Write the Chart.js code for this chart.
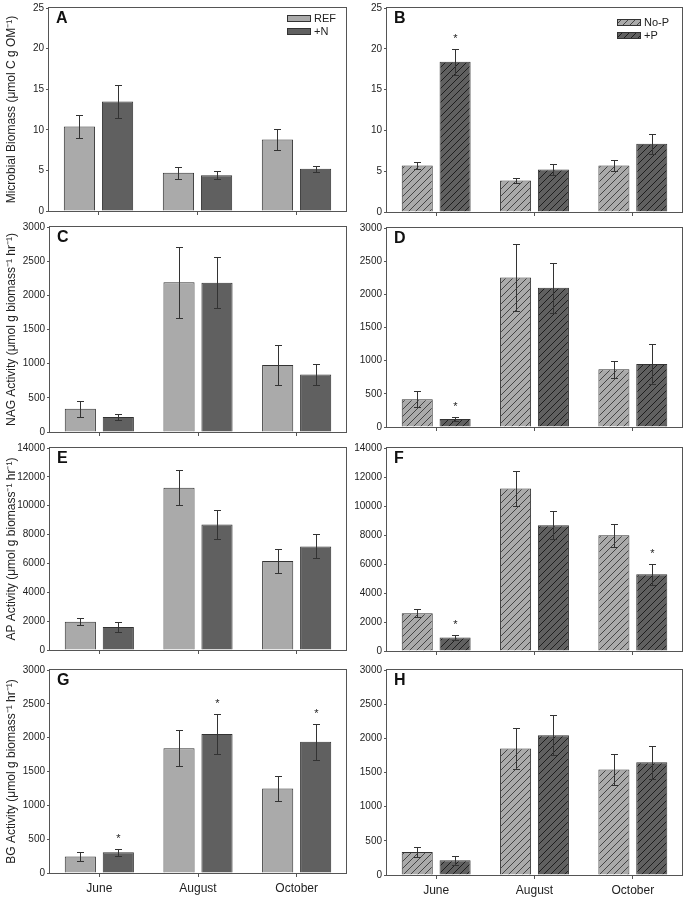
<!DOCTYPE html>
<html>
<head>
<meta charset="utf-8">
<script src="https://cdn.jsdelivr.net/npm/chart.js@4.4.1/dist/chart.umd.min.js"></script>
<style>
  html, body { margin: 0; padding: 0; background: #fff; }
  #wrap { position: relative; width: 685px; height: 898px; overflow: hidden; background: #fff; }
  canvas { position: absolute; }
</style>
</head>
<body>
<div id="wrap"></div>
<script>
// ---------------- DATA ----------------
const months = ['June', 'August', 'October'];
const nSeries = ['REF', '+N'];
const pSeries = ['No-P', '+P'];

const yTitleA = 'Microbial Biomass (\u03bcmol C g OM\u207b\u00b9)';
const yTitleC = 'NAG Activity (\u03bcmol g biomass\u207b\u00b9 hr\u207b\u00b9)';
const yTitleE = 'AP Activity (\u03bcmol g biomass\u207b\u00b9 hr\u207b\u00b9)';
const yTitleG = 'BG Activity (\u03bcmol g biomass\u207b\u00b9 hr\u207b\u00b9)';

const ticksBiomass = [0, 5, 10, 15, 20, 25];
const ticksNAG = [0, 500, 1000, 1500, 2000, 2500, 3000];
const ticksAP = [0, 2000, 4000, 6000, 8000, 10000, 12000, 14000];
const ticksBG = [0, 500, 1000, 1500, 2000, 2500, 3000];

// Panel A (REF / +N)
const A_ref = [10.4, 4.7, 8.8];
const A_refErr = [1.4, 0.7, 1.25];
const A_n = [13.5, 4.4, 5.2];
const A_nErr = [2.05, 0.5, 0.4];
const A_sig = [0, 0, 0];
// Panel B (No-P / +P)
const B_noP = [5.7, 3.85, 5.7];
const B_noPErr = [0.4, 0.35, 0.65];
const B_p = [18.4, 5.2, 8.35];
const B_pErr = [1.6, 0.7, 1.25];
const B_sig = [1, 0, 0];
// Panel C
const C_ref = [340, 2190, 980];
const C_refErr = [120, 515, 290];
const C_n = [220, 2185, 840];
const C_nErr = [50, 370, 155];
const C_sig = [0, 0, 0];
// Panel D
const D_noP = [420, 2255, 870];
const D_noPErr = [125, 500, 125];
const D_p = [120, 2100, 950];
const D_pErr = [30, 375, 295];
const D_sig = [1, 0, 0];
// Panel E
const E_ref = [1950, 11250, 6170];
const E_refErr = [250, 1230, 800];
const E_n = [1590, 8690, 7180];
const E_nErr = [320, 1000, 830];
const E_sig = [0, 0, 0];
// Panel F
const F_noP = [2600, 11200, 7980];
const F_noPErr = [270, 1200, 800];
const F_p = [930, 8680, 5300];
const F_pErr = [200, 960, 730];
const F_sig = [1, 0, 1];
// Panel G
const G_ref = [245, 1845, 1250];
const G_refErr = [65, 270, 190];
const G_n = [305, 2055, 1940];
const G_nErr = [55, 300, 265];
const G_sig = [1, 1, 1];
// Panel H
const H_noP = [335, 1850, 1545];
const H_noPErr = [68, 298, 225];
const H_p = [215, 2045, 1650];
const H_pErr = [63, 290, 245];
const H_sig = [0, 0, 0];

// ---------------- STYLE ----------------
const FONT = "'Liberation Sans', Arial, Helvetica, sans-serif";
Chart.defaults.font.family = FONT;
Chart.defaults.font.size = 11;
Chart.defaults.color = '#222';

const LIGHT = '#aaaaaa';
const DARK = '#606060';
const EDGE = '#333333';
const FRAME = '#555555';

function hatch(base, lineColor) {
  const s = 7;
  const c = document.createElement('canvas');
  c.width = s; c.height = s;
  const g = c.getContext('2d');
  g.fillStyle = base;
  g.fillRect(0, 0, s, s);
  g.strokeStyle = lineColor;
  g.lineWidth = 1;
  g.beginPath();
  g.moveTo(-1, s + 1); g.lineTo(s + 1, -1);
  g.moveTo(-1, 1); g.lineTo(1, -1);
  g.moveTo(s - 1, s + 1); g.lineTo(s + 1, s - 1);
  g.stroke();
  return g.createPattern(c, 'repeat');
}

const decor = {
  id: 'decor',
  afterDatasetsDraw(chart, args, o) {
    const ctx = chart.ctx;
    const a = chart.chartArea;
    const ys = chart.scales.y;
    ctx.save();
    // error bars + asterisks
    ctx.strokeStyle = EDGE;
    ctx.lineWidth = 1;
    o.errors.forEach((errArr, di) => {
      const meta = chart.getDatasetMeta(di);
      const vals = chart.data.datasets[di].data;
      meta.data.forEach((el, j) => {
        const x = Math.round(el.x) + 0.5;
        const yt = Math.round(ys.getPixelForValue(vals[j] + errArr[j])) + 0.5;
        const yb = Math.round(ys.getPixelForValue(Math.max(0, vals[j] - errArr[j]))) + 0.5;
        ctx.beginPath();
        ctx.moveTo(x, yt); ctx.lineTo(x, yb);
        ctx.moveTo(x - 3.5, yt); ctx.lineTo(x + 3.5, yt);
        ctx.moveTo(x - 3.5, yb); ctx.lineTo(x + 3.5, yb);
        ctx.stroke();
        if (di === 1 && o.sig[j]) {
          ctx.fillStyle = '#222';
          ctx.font = '11px ' + FONT;
          ctx.textAlign = 'center';
          ctx.textBaseline = 'alphabetic';
          ctx.fillText('*', x, yt - 8);
        }
      });
    });
    // frame
    ctx.strokeStyle = FRAME;
    ctx.lineWidth = 1;
    const L = Math.round(a.left) - 0.5, T = Math.round(a.top) - 0.5;
    const R = Math.round(a.right) + 0.5, B = Math.round(a.bottom) + 0.5;
    ctx.strokeRect(L, T, R - L, B - T);
    // panel letter
    ctx.fillStyle = '#111';
    ctx.font = 'bold 16px ' + FONT;
    ctx.textAlign = 'left';
    ctx.textBaseline = 'middle';
    ctx.fillText(o.letter, a.left + 7, a.top + 11);
    // legend
    if (o.legend) {
      ctx.font = '11px ' + FONT;
      ctx.textBaseline = 'middle';
      chart.data.datasets.forEach((ds, i) => {
        const bx = a.right - o.legend.dx;
        const by = a.top + o.legend.y0 + i * 13;
        ctx.fillStyle = ds.backgroundColor;
        ctx.fillRect(bx, by, 23, 6);
        ctx.strokeStyle = EDGE;
        ctx.strokeRect(bx + 0.5, by + 0.5, 23, 6);
        ctx.fillStyle = '#222';
        ctx.fillText(ds.label, bx + 27, by + 3.5);
      });
    }
    ctx.restore();
  }
};

// ---------------- PANELS ----------------
const panels = [
  { letter: 'A', left: 0, top: 0, w: 350, h: 219, padT: 6, padR: 4, yW: 49, xH: 8, names: nSeries,
    d1: A_ref, e1: A_refErr, d2: A_n, e2: A_nErr, sig: A_sig, ticks: ticksBiomass, title: yTitleA, hatch: false, labels: false, legend: { dx: 59, y0: 7 } },
  { letter: 'B', left: 347, top: 0, w: 338, h: 220, padT: 7, padR: 3, yW: 40, xH: 8, names: pSeries,
    d1: B_noP, e1: B_noPErr, d2: B_p, e2: B_pErr, sig: B_sig, ticks: ticksBiomass, title: null, hatch: true, labels: false, legend: { dx: 65, y0: 11 } },
  { letter: 'C', left: 0, top: 219, w: 350, h: 221, padT: 8, padR: 4, yW: 50, xH: 8, names: nSeries,
    d1: C_ref, e1: C_refErr, d2: C_n, e2: C_nErr, sig: C_sig, ticks: ticksNAG, title: yTitleC, hatch: false, labels: false },
  { letter: 'D', left: 347, top: 220, w: 338, h: 215, padT: 2, padR: 3, yW: 40, xH: 8, names: pSeries,
    d1: D_noP, e1: D_noPErr, d2: D_p, e2: D_pErr, sig: D_sig, ticks: ticksNAG, title: null, hatch: true, labels: false },
  { letter: 'E', left: 0, top: 440, w: 350, h: 218, padT: 7, padR: 4, yW: 50, xH: 8, names: nSeries,
    d1: E_ref, e1: E_refErr, d2: E_n, e2: E_nErr, sig: E_sig, ticks: ticksAP, title: yTitleE, hatch: false, labels: false },
  { letter: 'F', left: 347, top: 440, w: 338, h: 219, padT: 8, padR: 3, yW: 40, xH: 8, names: pSeries,
    d1: F_noP, e1: F_noPErr, d2: F_p, e2: F_pErr, sig: F_sig, ticks: ticksAP, title: null, hatch: true, labels: false },
  { letter: 'G', left: 0, top: 658, w: 350, h: 240, padT: 12, padR: 4, yW: 50, xH: 25, names: nSeries,
    d1: G_ref, e1: G_refErr, d2: G_n, e2: G_nErr, sig: G_sig, ticks: ticksBG, title: yTitleG, hatch: false, labels: true },
  { letter: 'H', left: 347, top: 658, w: 338, h: 240, padT: 12, padR: 3, yW: 40, xH: 23, names: pSeries,
    d1: H_noP, e1: H_noPErr, d2: H_p, e2: H_pErr, sig: H_sig, ticks: ticksBG, title: null, hatch: true, labels: true }
];

const wrap = document.getElementById('wrap');
panels.forEach(p => {
  const cv = document.createElement('canvas');
  cv.width = p.w; cv.height = p.h;
  cv.style.left = p.left + 'px'; cv.style.top = p.top + 'px';
  cv.style.width = p.w + 'px'; cv.style.height = p.h + 'px';
  wrap.appendChild(cv);

  const bg1 = p.hatch ? hatch(LIGHT, '#444') : LIGHT;
  const bg2 = p.hatch ? hatch(DARK, '#1e1e1e') : DARK;
  const tickVals = p.ticks;
  const yMax = tickVals[tickVals.length - 1];
  const step = tickVals[1] - tickVals[0];

  new Chart(cv, {
    type: 'bar',
    data: {
      labels: months,
      datasets: [
        { label: p.names[0], data: p.d1, backgroundColor: bg1, borderColor: EDGE, borderWidth: 1,
          categoryPercentage: 0.77, barPercentage: 0.82 },
        { label: p.names[1], data: p.d2, backgroundColor: bg2, borderColor: EDGE, borderWidth: 1,
          categoryPercentage: 0.77, barPercentage: 0.82 }
      ]
    },
    options: {
      responsive: false,
      animation: false,
      devicePixelRatio: 1,
      layout: { padding: { top: p.padT, right: p.padR, left: 0, bottom: 0 } },
      plugins: {
        legend: { display: false },
        tooltip: { enabled: false },
        decor: { letter: p.letter, errors: [p.e1, p.e2], sig: p.sig, legend: p.legend || null }
      },
      scales: {
        x: {
          type: 'category',
          offset: true,
          border: { display: false },
          grid: { display: true, offset: false, drawOnChartArea: false, drawTicks: true, tickLength: 4, color: FRAME },
          ticks: { display: p.labels, font: { size: 12 }, color: '#222', padding: 4, maxRotation: 0 },
          afterFit: s => { s.height = p.xH; }
        },
        y: {
          min: 0,
          max: yMax,
          border: { display: false },
          grid: { display: true, drawOnChartArea: false, drawTicks: true, tickLength: 3, color: FRAME },
          ticks: { stepSize: step, padding: 2, color: '#222', font: { size: 10 }, callback: v => String(v) },
          title: p.title ? { display: true, text: p.title, font: { size: 12 }, color: '#222', padding: { top: 4, bottom: 0 } } : { display: false },
          afterFit: s => { s.width = p.yW; }
        }
      }
    },
    plugins: [decor]
  });
});
</script>
</body>
</html>
